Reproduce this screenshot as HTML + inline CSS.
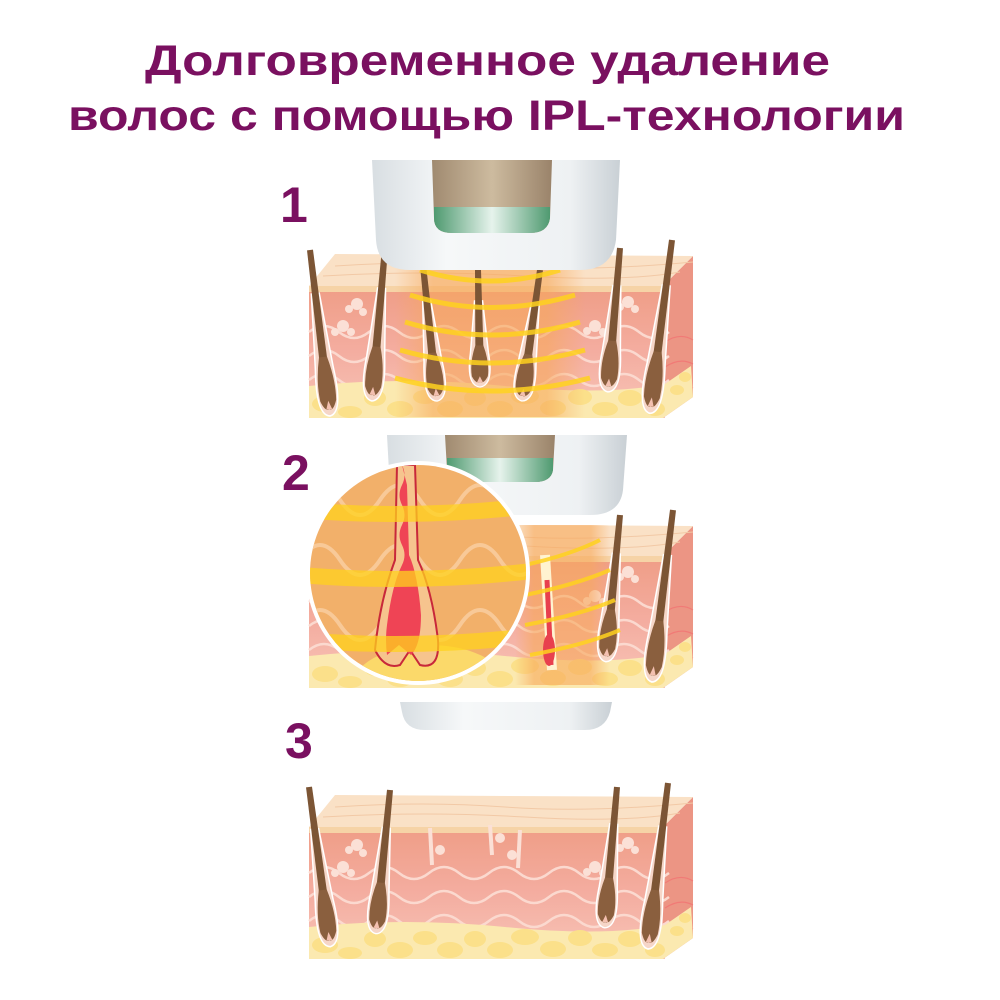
<!DOCTYPE html>
<html><head><meta charset="utf-8"><style>
html,body{margin:0;padding:0;background:#fff}
svg{display:block}
</style></head><body>
<svg width="1000" height="1000" viewBox="0 0 1000 1000" xmlns="http://www.w3.org/2000/svg">
<defs>
  <linearGradient id="front" x1="0" y1="0" x2="0" y2="1">
    <stop offset="0" stop-color="#ef9d86"/>
    <stop offset="0.5" stop-color="#f4ada0"/>
    <stop offset="1" stop-color="#f7c5b8"/>
  </linearGradient>
  <linearGradient id="dev" x1="0" y1="0" x2="1" y2="0">
    <stop offset="0" stop-color="#d8dee2"/>
    <stop offset="0.3" stop-color="#f6f8f9"/>
    <stop offset="0.8" stop-color="#eef1f3"/>
    <stop offset="1" stop-color="#c9d0d5"/>
  </linearGradient>
  <linearGradient id="win" x1="0" y1="0" x2="1" y2="0">
    <stop offset="0" stop-color="#a08a70"/>
    <stop offset="0.5" stop-color="#cdbb9f"/>
    <stop offset="1" stop-color="#9a836a"/>
  </linearGradient>
  <linearGradient id="grn" x1="0" y1="0" x2="1" y2="0">
    <stop offset="0" stop-color="#4f9a70"/>
    <stop offset="0.5" stop-color="#e6f3ec"/>
    <stop offset="1" stop-color="#4f9a70"/>
  </linearGradient>
  <linearGradient id="glow" x1="0" y1="0" x2="1" y2="0">
    <stop offset="0" stop-color="#f7a85a" stop-opacity="0"/>
    <stop offset="0.2" stop-color="#f7a85a" stop-opacity="0.6"/>
    <stop offset="0.8" stop-color="#f7a85a" stop-opacity="0.6"/>
    <stop offset="1" stop-color="#f7a85a" stop-opacity="0"/>
  </linearGradient>
  <clipPath id="circ"><circle cx="418" cy="573" r="108"/></clipPath>
  <g id="block">
    <rect x="4" y="34" width="356" height="132" fill="url(#front)"/>
    <polygon points="358,34 388,4 388,145 358,166" fill="#ec9584"/>
    <path d="M360,90 Q375,80 388,88 M360,115 Q375,105 388,112 M360,140 Q375,130 388,136" stroke="#f36f70" stroke-width="1.2" fill="none" opacity="0.7"/>
    <polygon points="4,34 358,34 388,4 30,2" fill="#fae1c6"/>
    <path d="M30,14 Q120,8 200,14 T388,10 M18,24 Q120,18 220,24 T375,20" stroke="#f2c9a6" stroke-width="1" fill="none"/>
    <rect x="4" y="34" width="356" height="6" fill="#f6d3a6"/>
    <path d="M4,80 q15,-12 30,0 t30,0 t30,0 t30,0 t30,0 t30,0 t30,0 t30,0 t30,0 t30,0 t30,0 t30,0" stroke="#fbd9cf" stroke-width="2.5" fill="none"/>
    <path d="M4,104 q15,-12 30,0 t30,0 t30,0 t30,0 t30,0 t30,0 t30,0 t30,0 t30,0 t30,0 t30,0 t30,0" stroke="#fbd9cf" stroke-width="2.5" fill="none"/>
    <path d="M4,128 q15,-12 30,0 t30,0 t30,0 t30,0 t30,0 t30,0 t30,0 t30,0 t30,0 t30,0 t30,0 t30,0" stroke="#fbd9cf" stroke-width="2.5" fill="none"/>
    <path d="M4,134 Q100,124 200,134 T360,132 L386,114 L388,145 L358,166 L4,166 Z" fill="#fbe9b0"/>
    <g fill="#fbe08a">
      <ellipse cx="20" cy="152" rx="13" ry="8"/><ellipse cx="45" cy="160" rx="12" ry="6"/><ellipse cx="70" cy="146" rx="11" ry="8"/>
      <ellipse cx="95" cy="157" rx="13" ry="8"/><ellipse cx="120" cy="145" rx="12" ry="7"/><ellipse cx="145" cy="157" rx="13" ry="8"/>
      <ellipse cx="170" cy="146" rx="11" ry="8"/><ellipse cx="195" cy="157" rx="13" ry="8"/><ellipse cx="220" cy="144" rx="14" ry="8"/>
      <ellipse cx="248" cy="156" rx="13" ry="8"/><ellipse cx="275" cy="145" rx="12" ry="8"/><ellipse cx="300" cy="157" rx="13" ry="7"/>
      <ellipse cx="325" cy="146" rx="12" ry="8"/><ellipse cx="350" cy="157" rx="10" ry="7"/><ellipse cx="372" cy="138" rx="7" ry="5"/><ellipse cx="380" cy="125" rx="6" ry="5"/>
    </g>
    <g fill="#fbe0d6">
      <circle cx="52" cy="52" r="6"/><circle cx="44" cy="57" r="4"/><circle cx="58" cy="60" r="4"/>
      <circle cx="38" cy="74" r="6"/><circle cx="30" cy="80" r="4"/><circle cx="46" cy="80" r="4"/>
      <circle cx="323" cy="50" r="6"/><circle cx="315" cy="55" r="4"/><circle cx="330" cy="57" r="4"/>
      <circle cx="290" cy="74" r="6"/><circle cx="282" cy="79" r="4"/><circle cx="298" cy="80" r="4"/>
    </g>
  </g>
  <g id="hair">
    <path d="M-4,40 L-9,108 Q-14,150 0,152 Q14,150 9,108 L4,40 Z" fill="#f6d6c8" stroke="#fff" stroke-width="1.5"/>
    <path d="M-3,0 L3,0 L4,100 L-4,100 Z" fill="#7c5535"/>
    <path d="M-4,98 Q-10,120 -8,138 Q-4,148 0,146 Q4,148 8,138 Q10,120 4,98 Z" fill="#8a5f3e"/>
    <path d="M-3,146 L0,138 L3,146 Z" fill="#f3c0b0"/>
  </g>
</defs>

<g font-family="'Liberation Sans', sans-serif" font-weight="bold" fill="#7a1060" font-size="43">
  <text x="145" y="75" textLength="685" lengthAdjust="spacingAndGlyphs">Долговременное удаление</text>
  <text x="68" y="130" textLength="837" lengthAdjust="spacingAndGlyphs">волос с помощью IPL-технологии</text>
</g>
<g font-family="'Liberation Sans', sans-serif" font-weight="bold" fill="#7a1060" font-size="50">
  <text x="280" y="222">1</text>
  <text x="282" y="490">2</text>
  <text x="285" y="758">3</text>
</g>

<!-- Panel 1 -->
<g transform="translate(305,252)"><use href="#block"/></g>
<rect x="395" y="262" width="190" height="155" fill="url(#glow)"/>
<g transform="translate(310,250) rotate(-6.9) scale(1,1.1)"><use href="#hair"/></g>
<g transform="translate(385,248) rotate(4.9) scale(1,1.01)"><use href="#hair"/></g>
<g transform="translate(423,265) rotate(-5.9) scale(1,0.9)"><use href="#hair"/></g>
<g transform="translate(478,270) rotate(-1) scale(1,0.77)"><use href="#hair"/></g>
<g transform="translate(540,270) rotate(7.9) scale(1,0.87)"><use href="#hair"/></g>
<g transform="translate(620,248) rotate(4.8) scale(1,0.95)"><use href="#hair"/></g>
<g transform="translate(672,240) rotate(7.3) scale(1,1.15)"><use href="#hair"/></g>
<g stroke="#ffd21e" stroke-width="5" fill="none" opacity="0.85">
  <path d="M420,270 Q490,292 560,270"/>
  <path d="M410,295 Q490,320 575,295"/>
  <path d="M405,322 Q490,348 580,322"/>
  <path d="M400,350 Q490,376 585,350"/>
  <path d="M395,378 Q490,404 590,378"/>
</g>
<path d="M372,160 L620,160 L616,240 Q612,270 580,270 L410,270 Q378,270 376,240 Z" fill="url(#dev)"/>
<path d="M432,160 L552,160 L550,218 Q548,233 530,233 L452,233 Q434,233 434,218 Z" fill="url(#win)"/>
<path d="M434,207 L550,207 L550,218 Q548,233 530,233 L452,233 Q434,233 434,218 Z" fill="url(#grn)"/>

<!-- Panel 2 -->
<g transform="translate(305,522)"><use href="#block"/></g>
<rect x="515" y="525" width="95" height="160" fill="url(#glow)"/>
<g transform="translate(620,515) rotate(5.5) scale(1,0.97)"><use href="#hair"/></g>
<g transform="translate(673,510) rotate(7) scale(1,1.14)"><use href="#hair"/></g>
<path d="M545,555 L552,670" stroke="#fff3d0" stroke-width="10" fill="none"/>
<path d="M547,580 L551,665" stroke="#e8404e" stroke-width="5" fill="none"/>
<ellipse cx="549" cy="650" rx="6" ry="16" fill="#e8404e"/>
<g stroke="#ffd21e" stroke-width="4" fill="none" opacity="0.85">
  <path d="M525,565 Q570,555 600,540"/><path d="M525,595 Q575,585 610,570"/><path d="M525,625 Q580,615 615,600"/><path d="M530,655 Q585,645 620,630"/>
</g>
<path d="M387,435 L627,435 L623,490 Q620,515 590,515 L420,515 Q392,515 390,490 Z" fill="url(#dev)"/>
<path d="M445,435 L555,435 L553,470 Q551,482 535,482 L465,482 Q447,482 447,470 Z" fill="url(#win)"/>
<path d="M447,458 L553,458 L553,470 Q551,482 535,482 L465,482 Q447,482 447,470 Z" fill="url(#grn)"/>
<circle cx="418" cy="573" r="112" fill="#fff"/>
<g clip-path="url(#circ)">
  <rect x="300" y="460" width="240" height="230" fill="#f2b06a"/>
  <path d="M300,500 q20,-30 40,0 t40,0 t40,0 t40,0 t40,0 t40,0 M300,560 q20,-30 40,0 t40,0 t40,0 t40,0 t40,0 t40,0 M300,625 q20,-30 40,0 t40,0 t40,0 t40,0 t40,0 t40,0" stroke="#f8c998" stroke-width="4" fill="none"/>
  <ellipse cx="430" cy="690" rx="80" ry="45" fill="#fbd96a"/>
  <path d="M397,465 L395,560 Q380,600 375,650 Q385,670 400,665 L410,650 L420,665 Q440,670 438,640 Q432,590 418,560 L415,465 Z" fill="#f6c48e" stroke="#c8283a" stroke-width="2"/>
  <path d="M402,465 q5,10 0,20 t0,20 t0,20 t0,20 t0,20 q-10,20 -15,60 q-2,15 0,30 l12,-10 l12,10 q10,-10 10,-40 q-3,-40 -12,-60 l-2,-70 Z" fill="#ef4455"/>
  <g stroke="#ffd21e" stroke-width="16" fill="none" opacity="0.75">
    <path d="M300,510 Q418,520 540,505"/><path d="M300,575 Q418,585 540,570"/><path d="M300,640 Q418,650 540,635"/>
  </g>
</g>

<!-- Panel 3 -->
<path d="M400,702 L612,702 L610,712 Q605,730 585,730 L425,730 Q405,730 402,712 Z" fill="url(#dev)"/>
<g transform="translate(305,793)"><use href="#block"/></g>
<g stroke="#fbe0d6" stroke-width="4" fill="none">
  <path d="M430,828 L432,865"/><path d="M490,825 L492,855"/><path d="M520,830 L518,868"/>
</g>
<g fill="#fbe0d6"><circle cx="440" cy="850" r="5"/><circle cx="500" cy="838" r="5"/><circle cx="512" cy="855" r="5"/></g>
<g transform="translate(309,787) rotate(-7.6) scale(1,1.06)"><use href="#hair"/></g>
<g transform="translate(390,790) rotate(5.6) scale(1,0.95)"><use href="#hair"/></g>
<g transform="translate(617,787) rotate(5) scale(1,0.93)"><use href="#hair"/></g>
<g transform="translate(668,783) rotate(6.9) scale(1,1.1)"><use href="#hair"/></g>
</svg>
</body></html>
